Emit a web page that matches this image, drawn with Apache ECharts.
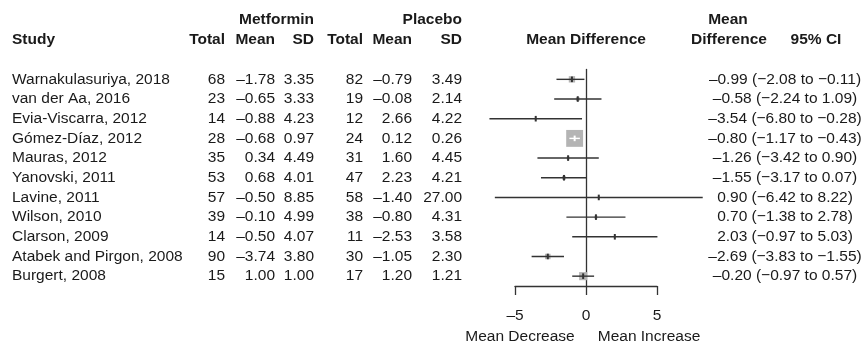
<!doctype html>
<html lang="en">
<head>
<meta charset="UTF-8">
<title>Forest plot - Metformin vs Placebo</title>
<style>
    html, body { margin: 0; padding: 0; background: #fff; }
    #chart { width: 866px; height: 344px; }
</style>
</head>
<body>
<div id="chart"></div>
<script src="https://cdn.jsdelivr.net/npm/echarts@6/dist/echarts.min.js"></script>
<script type="text/javascript">
    // 研究数据
    var studies = ["Warnakulasuriya, 2018", "van der Aa, 2016", "Evia-Viscarra, 2012", "Gómez-Díaz, 2012",
        "Mauras, 2012", "Yanovski, 2011", "Lavine, 2011", "Wilson, 2010", "Clarson, 2009",
        "Atabek and Pirgon, 2008", "Burgert, 2008"];
    var met_total = [68, 23, 14, 28, 35, 53, 57, 39, 14, 90, 15];
    var met_mean = [-1.78, -0.65, -0.88, -0.68, 0.34, 0.68, -0.50, -0.10, -0.50, -3.74, 1.00];
    var met_sd = [3.35, 3.33, 4.23, 0.97, 4.49, 4.01, 8.85, 4.99, 4.07, 3.80, 1.00];
    var pla_total = [82, 19, 12, 24, 31, 47, 58, 38, 11, 30, 17];
    var pla_mean = [-0.79, -0.08, 2.66, 0.12, 1.60, 2.23, -1.40, -0.80, -2.53, -1.05, 1.20];
    var pla_sd = [3.49, 2.14, 4.22, 0.26, 4.45, 4.21, 27.00, 4.31, 3.58, 2.30, 1.21];
    var mean_diff = [-0.99, -0.58, -3.54, -0.80, -1.26, -1.55, 0.90, 0.70, 2.03, -2.69, -0.20];
    var ci_low = [-2.08, -2.24, -6.80, -1.17, -3.42, -3.17, -6.42, -1.38, -0.97, -3.83, -0.97];
    var ci_high = [-0.11, 1.09, -0.28, -0.43, 0.90, 0.07, 8.22, 2.78, 5.03, -1.55, 0.57];
    var x_ticks = [-5, 0, 5];

    var FONT = "Liberation Sans, Arial, sans-serif";
    var TXT = "#1a1a1a";
    var FS = 15.5;

    function fmt(v) {
        var s = v.toFixed(2);
        return s.charAt(0) == "-" ? "\u2013" + s.substring(1) : s;
    }
    function fmtCi(v) {
        var s = v.toFixed(2);
        return s.charAt(0) == "-" ? "\u2212" + s.substring(1) : s;
    }

    var chart = echarts.init(document.getElementById('chart'), null, {renderer: 'canvas'});

    // 表格列: 每列是同一个 grid 里的一根类目 y 轴
    var GRID_L = 515, GRID_R = 657;
    function col(arr, xPos, side, align, fn) {
        var off = side == "left" ? GRID_L - xPos : xPos - GRID_R;
        return {
            type: 'category', inverse: true, data: studies, position: side, offset: off,
            axisLine: {show: false, onZero: false}, axisTick: {show: false}, splitLine: {show: false},
            axisLabel: {
                interval: 0, margin: 0, align: align, color: TXT, fontSize: FS, fontFamily: FONT,
                formatter: function (v, i) { return fn ? fn(arr[i]) : String(arr[i]); }
            }
        };
    }

    var md_text = studies.map(function (s, i) {
        return fmt(mean_diff[i]) + " (" + fmtCi(ci_low[i]) + " to " + fmtCi(ci_high[i]) + ")";
    });

    var yAxes = [
        {   // 零线
            type: 'category', inverse: true, data: studies,
            axisLine: {show: true, onZero: true, lineStyle: {color: '#333', width: 1.3}},
            axisTick: {show: false}, axisLabel: {show: false}, splitLine: {show: false}
        },
        col(studies, 12, "left", "left"),
        col(met_total, 225, "left", "right"),
        col(met_mean, 275, "left", "right", fmt),
        col(met_sd, 314, "left", "right", fmt),
        col(pla_total, 363, "left", "right"),
        col(pla_mean, 412, "left", "right", fmt),
        col(pla_sd, 462, "left", "right", fmt),
        col(md_text, 785, "right", "center")
    ];

    var forest_data = [];
    for (var i = 0; i < studies.length; i++) {
        forest_data.push([mean_diff[i], ci_low[i], ci_high[i], i]);
    }

    function renderForest(params, api) {
        var md = api.value(0), lo = api.value(1), hi = api.value(2), row = api.value(3);
        var pLo = api.coord([lo, row]), pHi = api.coord([hi, row]), pMd = api.coord([md, row]);
        // 方块大小按 1/SE 缩放
        var size = Math.max(2, 12.5 / (hi - lo));
        var inside = size > (pHi[0] - pLo[0]);
        var lineColor = inside ? '#ffffff' : '#333333';
        return {
            type: 'group',
            children: [
                {type: 'rect', shape: {x: pMd[0] - size / 2, y: pMd[1] - size / 2, width: size, height: size},
                    style: {fill: '#b4b4b4'}},
                {type: 'line', shape: {x1: pLo[0], y1: pLo[1], x2: pHi[0], y2: pHi[1]},
                    style: {stroke: lineColor, lineWidth: 1.4}},
                {type: 'line', shape: {x1: pMd[0], y1: pMd[1] - 2.8, x2: pMd[0], y2: pMd[1] + 2.8},
                    style: {stroke: lineColor, lineWidth: 2}}
            ]
        };
    }

    function headerText(text, x, y, align, bold) {
        return {
            type: 'text', x: x, y: y,
            style: {
                text: text, fill: TXT, align: align, verticalAlign: 'middle',
                fontSize: FS, fontWeight: bold ? 'bold' : 'normal', fontFamily: FONT
            }
        };
    }

    var option = {
        animation: false,
        backgroundColor: '#ffffff',
        grid: {left: GRID_L, right: 866 - GRID_R, top: 69.5, bottom: 58},
        xAxis: {
            type: 'value', min: -5, max: 5, interval: 5,
            axisLine: {show: true, onZero: false, lineStyle: {color: '#333', width: 1.3}},
            axisTick: {show: true, length: 9, lineStyle: {color: '#333', width: 1.3}},
            axisLabel: {
                margin: 22, color: TXT, fontSize: FS, fontFamily: FONT,
                formatter: function (v) { return x_ticks.indexOf(v) >= 0 ? (v < 0 ? "\u2013" + (-v) : String(v)) : ""; }
            },
            splitLine: {show: false}
        },
        yAxis: yAxes,
        series: [{
            type: 'custom', xAxisIndex: 0, yAxisIndex: 0, clip: false,
            encode: {x: [0, 1, 2], y: 3},
            data: forest_data,
            renderItem: renderForest
        }],
        graphic: [
            headerText("Metformin", 314, 20, "right", true),
            headerText("Placebo", 462, 20, "right", true),
            headerText("Mean", 728, 20, "center", true),
            headerText("Study", 12, 40, "left", true),
            headerText("Total", 225, 40, "right", true),
            headerText("Mean", 275, 40, "right", true),
            headerText("SD", 314, 40, "right", true),
            headerText("Total", 363, 40, "right", true),
            headerText("Mean", 412, 40, "right", true),
            headerText("SD", 462, 40, "right", true),
            headerText("Mean Difference", 586, 40, "center", true),
            headerText("Difference", 729, 40, "center", true),
            headerText("95% CI", 816, 40, "center", true),
            headerText("Mean Decrease", 520, 337, "center", false),
            headerText("Mean Increase", 649, 337, "center", false)
        ]
    };
    chart.setOption(option);
</script>
</body>
</html>
